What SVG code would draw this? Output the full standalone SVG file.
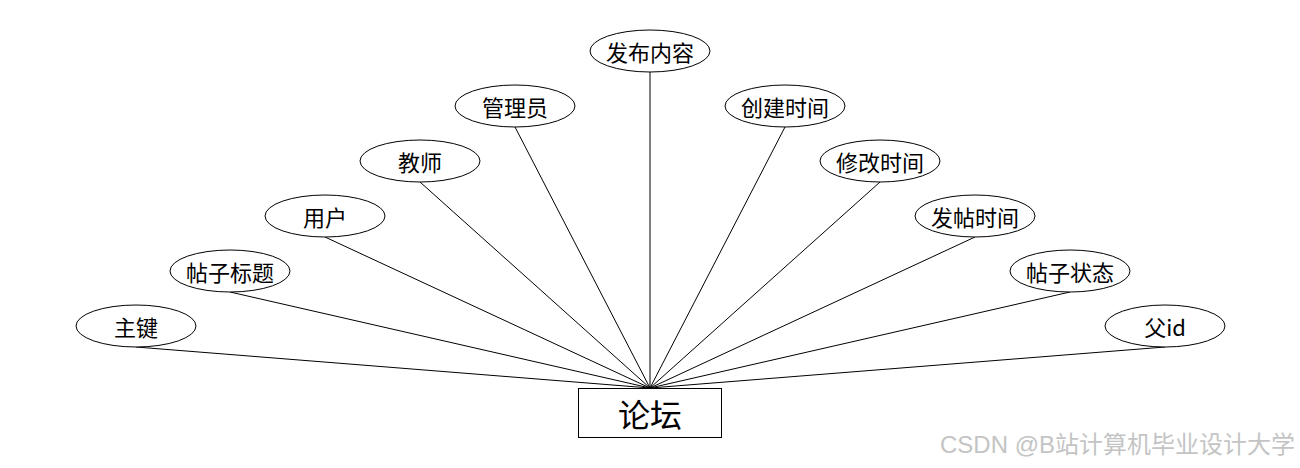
<svg xmlns="http://www.w3.org/2000/svg" width="1300" height="468" viewBox="0 0 1300 468">
<style>
.e{fill:#fff;stroke:#000;stroke-width:1}
.t{font-family:"Noto Sans CJK SC","Liberation Sans",sans-serif;font-size:22px;fill:#000;text-anchor:middle;dominant-baseline:central}
.c line{stroke:#000;stroke-width:1}
.wm{font-family:"Liberation Sans","Noto Sans CJK SC",sans-serif;font-size:24px;fill:#c4c4c4;text-anchor:end}
</style>
<rect width="1300" height="468" fill="#fff"/>
<g id="connectors" class="c">
<line x1="136" y1="347" x2="650" y2="388"/>
<line x1="230" y1="292" x2="650" y2="388"/>
<line x1="325" y1="237" x2="650" y2="388"/>
<line x1="420" y1="182" x2="650" y2="388"/>
<line x1="515" y1="127" x2="650" y2="388"/>
<line x1="650" y1="72" x2="650" y2="388"/>
<line x1="785" y1="127" x2="650" y2="388"/>
<line x1="880" y1="182" x2="650" y2="388"/>
<line x1="975" y1="237" x2="650" y2="388"/>
<line x1="1070" y1="292" x2="650" y2="388"/>
<line x1="1165" y1="347" x2="650" y2="388"/>
</g>
<g id="n0"><ellipse class="e" cx="136" cy="326" rx="60" ry="21"/><text class="t" x="136" y="326">主键</text></g>
<g id="n1"><ellipse class="e" cx="230" cy="271" rx="60" ry="21"/><text class="t" x="230" y="271">帖子标题</text></g>
<g id="n2"><ellipse class="e" cx="325" cy="216" rx="60" ry="21"/><text class="t" x="325" y="216">用户</text></g>
<g id="n3"><ellipse class="e" cx="420" cy="161" rx="60" ry="21"/><text class="t" x="420" y="161">教师</text></g>
<g id="n4"><ellipse class="e" cx="515" cy="106" rx="60" ry="21"/><text class="t" x="515" y="106">管理员</text></g>
<g id="n5"><ellipse class="e" cx="650" cy="51" rx="60" ry="21"/><text class="t" x="650" y="51">发布内容</text></g>
<g id="n6"><ellipse class="e" cx="785" cy="106" rx="60" ry="21"/><text class="t" x="785" y="106">创建时间</text></g>
<g id="n7"><ellipse class="e" cx="880" cy="161" rx="60" ry="21"/><text class="t" x="880" y="161">修改时间</text></g>
<g id="n8"><ellipse class="e" cx="975" cy="216" rx="60" ry="21"/><text class="t" x="975" y="216">发帖时间</text></g>
<g id="n9"><ellipse class="e" cx="1070" cy="271" rx="60" ry="21"/><text class="t" x="1070" y="271">帖子状态</text></g>
<g id="n10"><ellipse class="e" cx="1165" cy="326" rx="60" ry="21"/><text class="t" x="1165" y="326">父id</text></g>
<g id="main"><rect x="578.500" y="388.500" width="143" height="49" fill="#fff" stroke="#000"/><text class="t" x="650" y="413" style="font-size:32px">论坛</text></g>
<text class="wm" x="1295" y="453">CSDN @B站计算机毕业设计大学</text>
</svg>
